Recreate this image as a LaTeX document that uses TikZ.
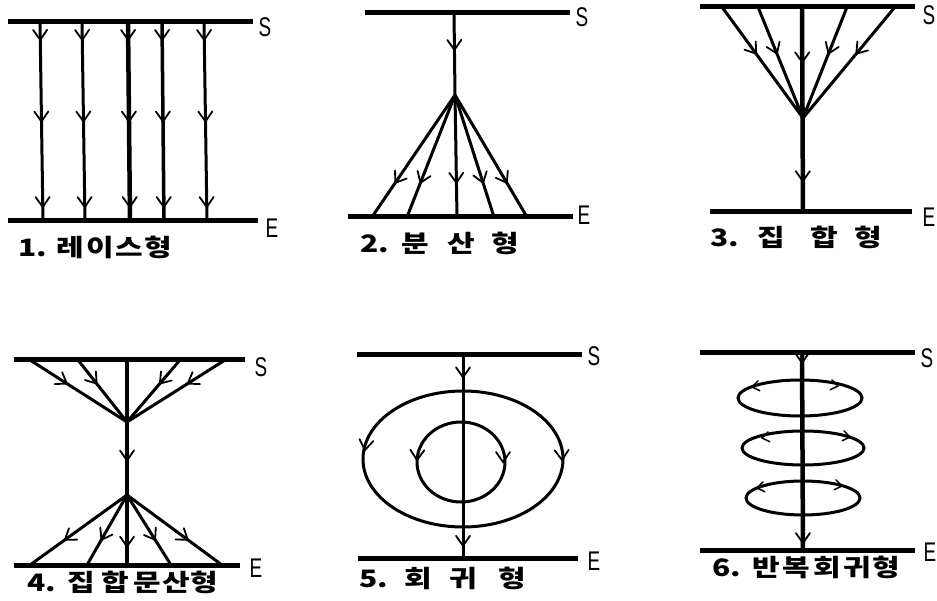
\documentclass[tikz,border=0pt]{standalone}
\usepackage{fontspec}
\newfontfamily\cjk{Noto Sans CJK KR}
\newfontfamily\latn{Liberation Sans}
\usetikzlibrary{decorations.markings}
\newcommand\barbat[2]{\draw[barbline, shift={(#1)}, rotate=#2] (-10pt,7pt) -- (0pt,0pt) -- (-10pt,-7pt);}
\newcommand\sbarbat[2]{\draw[barbline, line width=1.5pt, shift={(#1)}, rotate=#2] (-7pt,5pt) -- (0pt,0pt) -- (-7pt,-5pt);}
\newcommand\widetxt[1]{\scalebox{1.25}[1]{#1}}
\newcommand\narrowtxt[1]{\scalebox{0.7}[1]{#1}}
\tikzset{
  x=1pt, y=-1pt,
  bar/.style={line width=5pt},
  flow/.style={line width=3pt},
  thickflow/.style={line width=4.5pt},
  barbline/.style={line width=1.8pt, line cap=round, line join=miter},
  arr/.style={postaction={decorate, decoration={markings,
      mark=at position #1 with {\draw[barbline] (-10pt,7pt) -- (0pt,0pt) -- (-10pt,-7pt);}}}},
  lbl/.style={anchor=west, inner sep=0pt, font=\cjk\bfseries\fontsize{24}{24}\selectfont},
  se/.style={inner sep=0pt, font=\latn\fontsize{27}{27}\selectfont},
}
\begin{document}
\begin{tikzpicture}
\useasboundingbox (0,0) rectangle (937,601);
% ---------- Panel 1 ----------
\coordinate (s1a) at (8,22); \coordinate (s1b) at (253,22);
\coordinate (e1a) at (8,221); \coordinate (e1b) at (258,221);
\draw[bar] (s1a) -- (s1b);
\draw[bar] (e1a) -- (e1b);
\node[se] (S1) at (265,27) {\narrowtxt{S}};
\node[se] (E1) at (272,228) {\narrowtxt{E}};
\foreach \i/\xt/\xb/\w in {1/40/43/3, 2/82/85/3, 3/128/130/4.5, 4/162/164/3.5, 5/204/207/3}{
  \coordinate (p1t\i) at (\xt,22); \coordinate (p1b\i) at (\xb,221);
  \draw[line width=\w pt, arr=0.09, arr=0.5, arr=0.93] (p1t\i) -- (p1b\i);
}
\node[lbl] (L1) at (18,247) {\widetxt{1.\kern8pt 레\kern1.5pt 이\kern1.5pt 스\kern1pt 형}};
% ---------- Panel 2 ----------
\coordinate (s2a) at (365,13); \coordinate (s2b) at (570,13);
\coordinate (e2a) at (348,217); \coordinate (e2b) at (573,217);
\draw[bar] (s2a) -- (s2b);
\draw[bar] (e2a) -- (e2b);
\node[se] (S2) at (582,17) {\narrowtxt{S}};
\node[se] (E2) at (584,215) {\narrowtxt{E}};
\coordinate (t2) at (454,13); \coordinate (a2) at (455,95);
\draw[flow, arr=0.45] (t2) -- (a2);
\foreach \i/\xb in {1/372, 2/407, 3/457, 4/494, 5/527}{
  \coordinate (b2\i) at (\xb,217);
  \draw[flow, arr=0.72] (a2) -- (b2\i);
}
\node[lbl] (L2) at (360,243) {\widetxt{2.\kern10pt 분\kern15pt 산\kern13pt 형}};
% ---------- Panel 3 ----------
\coordinate (s3a) at (700,7); \coordinate (s3b) at (915,7);
\coordinate (e3a) at (710,212); \coordinate (e3b) at (912,212);
\draw[bar] (s3a) -- (s3b);
\draw[bar] (e3a) -- (e3b);
\node[se] (S3) at (929,15) {\narrowtxt{S}};
\node[se] (E3) at (929,217) {\narrowtxt{E}};
\coordinate (a3) at (803,118);
\foreach \i/\xt in {1/722, 2/758, 4/847, 5/895}{
  \coordinate (t3\i) at (\xt,7);
  \draw[flow, arr=0.42] (t3\i) -- (a3);
}
\coordinate (t33) at (802,7); \coordinate (b33) at (803,212);
\draw[thickflow, arr=0.27, arr=0.85] (t33) -- (b33);
\node[lbl] (L3) at (710,237) {\widetxt{3.\kern15pt 집\kern20pt 합\kern13pt 형}};
% ---------- Panel 4 ----------
\coordinate (s4a) at (14,360); \coordinate (s4b) at (245,360);
\coordinate (e4a) at (14,565); \coordinate (e4b) at (240,565);
\draw[bar] (s4a) -- (s4b);
\draw[bar] (e4a) -- (e4b);
\node[se] (S4) at (261,367) {\narrowtxt{S}};
\node[se] (E4) at (256,568) {\narrowtxt{E}};
\coordinate (a4t) at (127,422); \coordinate (a4b) at (127,495);
\foreach \i/\xt in {1/30, 2/78, 4/180, 5/225}{
  \coordinate (t4\i) at (\xt,360);
  \draw[flow, arr=0.38] (t4\i) -- (a4t);
}
\coordinate (t43) at (127,360); \coordinate (b43) at (127,565);
\draw[thickflow, arr=0.49, arr=0.91] (t43) -- (b43);
\foreach \i/\xb in {1/30, 2/87, 4/171, 5/222}{
  \coordinate (b4\i) at (\xb,565);
  \draw[flow, arr=0.64] (a4b) -- (b4\i);
}
\node[lbl] (L4) at (27,582) {\widetxt{4.\kern9pt 집\kern5pt 합\kern4pt 문\kern1pt 산\kern0pt 형}};
% ---------- Panel 5 ----------
\coordinate (s5a) at (357,355); \coordinate (s5b) at (582,355);
\coordinate (e5a) at (358,558); \coordinate (e5b) at (578,558);
\draw[bar] (s5a) -- (s5b);
\draw[bar] (e5a) -- (e5b);
\node[se] (S5) at (594,356) {\narrowtxt{S}};
\node[se] (E5) at (594,561) {\narrowtxt{E}};
\coordinate (t5) at (463,355); \coordinate (b5) at (463,558);
\draw[flow, arr=0.11, arr=0.94] (t5) -- (b5);
\coordinate (c5o) at (463,459); \coordinate (c5i) at (461,462);
\draw[flow] (c5o) ellipse [x radius=100, y radius=68];
\draw[flow] (c5i) ellipse [x radius=44, y radius=40];
\coordinate (m5a) at (365,450); \barbat{m5a}{-98}
\coordinate (m5b) at (562,460); \barbat{m5b}{-88}
\coordinate (m5c) at (417,460); \barbat{m5c}{-92}
\coordinate (m5d) at (503,462); \barbat{m5d}{-90}
\node[lbl] (L5) at (359,578) {\widetxt{5.\kern13pt 회\kern14.5pt 귀\kern17pt 형}};
% ---------- Panel 6 ----------
\coordinate (s6a) at (700,353); \coordinate (s6b) at (915,353);
\coordinate (e6a) at (700,550); \coordinate (e6b) at (915,550);
\draw[bar] (s6a) -- (s6b);
\draw[bar] (e6a) -- (e6b);
\node[se] (S6) at (927,358) {\narrowtxt{S}};
\node[se] (E6) at (930,552) {\narrowtxt{E}};
\coordinate (t6) at (802,353); \coordinate (b6) at (803,550);
\draw[thickflow, arr=0.05, arr=0.965] (t6) -- (b6);
\coordinate (c6a) at (800,398); \coordinate (c6b) at (803,448); \coordinate (c6c) at (803,498);
\draw[flow] (c6a) ellipse [x radius=62, y radius=18];
\draw[flow] (c6b) ellipse [x radius=61, y radius=17];
\draw[flow] (c6c) ellipse [x radius=57, y radius=17];
\coordinate (m6a) at (752,387); \sbarbat{m6a}{190}
\coordinate (m6b) at (838,386); \sbarbat{m6b}{-10}
\coordinate (m6c) at (762,438); \sbarbat{m6c}{190}
\coordinate (m6d) at (850,437); \sbarbat{m6d}{-10}
\coordinate (m6e) at (757,488); \sbarbat{m6e}{190}
\coordinate (m6f) at (842,486); \sbarbat{m6f}{-10}
\node[lbl] (L6) at (712,567) {\widetxt{6.\kern9pt 반\kern2.5pt 복\kern2.5pt 회\kern1.5pt 귀\kern1pt 형}};
\end{tikzpicture}
\end{document}
